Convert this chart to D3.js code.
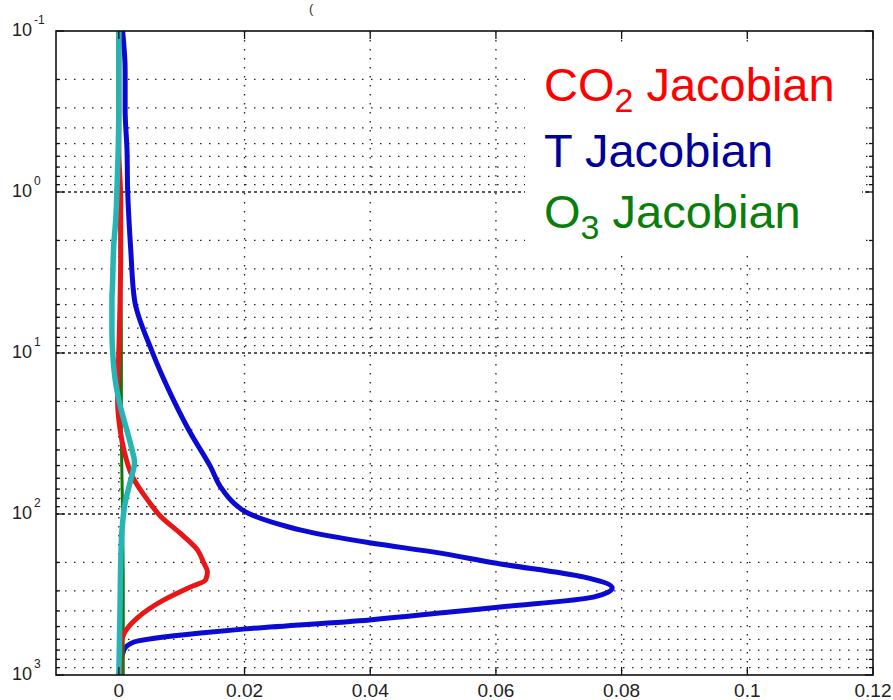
<!DOCTYPE html>
<html>
<head>
<meta charset="utf-8">
<script src="https://cdn.jsdelivr.net/npm/d3@7"></script>
<style>
  body { margin: 0; background: #fff; }
  svg { display: block; font-family: "Liberation Sans", Arial, sans-serif; }
</style>
</head>
<body>
<svg width="893" height="700"></svg>
<script>
// pressure levels (hPa) and Jacobian values
const tPres = [0.1, 0.175, 0.31, 0.55, 0.97, 2.3, 4.7, 9.6, 19.6, 31.4, 51, 68, 85.5, 98.7, 120, 126, 151, 175, 201, 246, 288, 328, 378, 406, 455, 517, 548, 624, 700, 867, 1000];
const tJac  = [0.0006, 0.001, 0.001, 0.0013, 0.0014, 0.0019, 0.0025, 0.0052, 0.0087, 0.0114, 0.0146, 0.0162, 0.0183, 0.0205, 0.0269, 0.029, 0.0399, 0.0512, 0.0596, 0.0739, 0.0785, 0.0755, 0.0607, 0.0527, 0.0399, 0.0202, 0.013, 0.0024, 0.0008, 0.0003, 0.0003];

const co2Pres = [0.1, 0.55, 1.12, 2.3, 4.7, 9.6, 19.6, 30, 40, 59, 82, 104, 132, 167, 201, 229, 257, 284, 343, 440, 530, 660, 1000];
const co2Jac  = [0, 0, 0.0003, 0.0003, 0.0002, 0, -0.0002, 0.0002, 0.0008, 0.0022, 0.0046, 0.0067, 0.0098, 0.0125, 0.0135, 0.0141, 0.0138, 0.0114, 0.0071, 0.003, 0.0011, 0.0003, 0.0002];

const o3Pres = [0.1, 1, 8, 30, 60, 100, 300, 1000];
const o3Jac  = [0.0001, 0.0001, 0.0004, 0.0004, 0.0005, 0.0006, 0.0007, 0.0007];

const cyanPres = [0.1, 0.27, 0.97, 1.5, 2.1, 3.7, 4.7, 7.3, 9.6, 15.4, 19.6, 31.4, 40, 48, 57, 68, 85.5, 126, 201, 355, 1000];
const cyanJac  = [0, 0, -0.0003, -0.0005, -0.0008, -0.001, -0.0011, -0.0011, -0.001, -0.0005, 0, 0.0014, 0.0021, 0.0025, 0.0021, 0.0016, 0.001, 0.0005, 0.0003, 0.0002, 0];

const xTicks = [0, 0.02, 0.04, 0.06, 0.08, 0.1, 0.12];
const xTickLabels = ['0', '0.02', '0.04', '0.06', '0.08', '0.1', '0.12'];
const yDecades = [0.1, 1, 10, 100, 1000];
const yExponents = ['-1', '0', '1', '2', '3'];

const legendItems = [
  { main: 'CO', sub: '2', rest: ' Jacobian', color: '#ff0000' },
  { main: 'T Jacobian', sub: '', rest: '', color: '#000099' },
  { main: 'O', sub: '3', rest: ' Jacobian', color: '#0a7d0a' }
];

const svg = d3.select('svg');

const x = d3.scaleLinear().domain([-0.01, 0.12]).range([56, 873]);
const y = d3.scaleLog().domain([0.1, 1000]).range([31, 675]);

// minor log ticks (1..9 per decade)
const yAll = [];
for (let k = -1; k < 3; k++) {
  for (let m = 1; m <= 9; m++) yAll.push(m * Math.pow(10, k));
}
yAll.push(1000);

const isDecade = v => Math.abs(Math.log10(v) - Math.round(Math.log10(v))) < 1e-9;

// grid
const grid = svg.append('g').attr('stroke', '#222').attr('stroke-width', 1.3);

grid.selectAll('.hg')
  .data(yAll.filter(v => v > 0.1 && v < 1000))
  .join('line')
    .attr('x1', x.range()[0]).attr('x2', x.range()[1])
    .attr('y1', d => y(d)).attr('y2', d => y(d))
    .attr('stroke-dasharray', d => isDecade(d) ? '3,3' : '1.5,7.5');

grid.selectAll('.vg')
  .data(xTicks.filter(v => v < 0.12))
  .join('line')
    .attr('x1', d => x(d)).attr('x2', d => x(d))
    .attr('y1', y.range()[0]).attr('y2', y.range()[1])
    .attr('stroke-dasharray', '1.5,7.5');

// curves (pressure is monotonic, so smooth along y)
const line = d3.line()
  .x(d => x(d[1]))
  .y(d => y(d[0]))
  .curve(d3.curveMonotoneY);

const curves = [
  { pres: tPres, vals: tJac, color: '#0a0ad2', w: 5 },
  { pres: o3Pres, vals: o3Jac, color: '#0b7a0b', w: 3 },
  { pres: co2Pres, vals: co2Jac, color: '#e81616', w: 5 },
  { pres: cyanPres, vals: cyanJac, color: '#26b4b4', w: 5.5 }
];

curves.forEach(c => {
  svg.append('path')
    .datum(d3.zip(c.pres, c.vals))
    .attr('d', line)
    .attr('fill', 'none')
    .attr('stroke', c.color)
    .attr('stroke-width', c.w)
    .attr('stroke-linejoin', 'round');
});

// legend box
svg.append('rect')
  .attr('x', 525).attr('y', 45)
  .attr('width', 337).attr('height', 205)
  .attr('fill', '#fff');

const legendY = [101, 167, 228];
legendItems.forEach((item, i) => {
  const t = svg.append('text')
    .attr('x', 544)
    .attr('y', legendY[i])
    .attr('fill', item.color)
    .attr('font-size', 47);
  t.append('tspan').text(item.main);
  if (item.sub) {
    t.append('tspan').attr('font-size', 34).attr('dy', 11).text(item.sub);
    t.append('tspan').attr('dy', -11).text(item.rest);
  }
});

// axes box
svg.append('rect')
  .attr('x', 56).attr('y', 31)
  .attr('width', 817).attr('height', 644)
  .attr('fill', 'none')
  .attr('stroke', '#111')
  .attr('stroke-width', 1.6);

// y ticks, inward, both sides
const ticks = svg.append('g').attr('stroke', '#111').attr('stroke-width', 1.3);
yAll.forEach(v => {
  const len = isDecade(v) ? 8 : 4;
  ticks.append('line').attr('x1', 56).attr('x2', 56 + len).attr('y1', y(v)).attr('y2', y(v));
  ticks.append('line').attr('x1', 873).attr('x2', 873 - len).attr('y1', y(v)).attr('y2', y(v));
});
// x ticks, top and bottom
xTicks.forEach(v => {
  ticks.append('line').attr('x1', x(v)).attr('x2', x(v)).attr('y1', 675).attr('y2', 667);
  ticks.append('line').attr('x1', x(v)).attr('x2', x(v)).attr('y1', 31).attr('y2', 39);
});

// y labels
yDecades.forEach((v, i) => {
  const yy = y(v);
  svg.append('text')
    .attr('x', 32).attr('y', yy + 5)
    .attr('text-anchor', 'end')
    .attr('font-size', 18)
    .attr('fill', '#222')
    .text('10');
  svg.append('text')
    .attr('x', 34).attr('y', yy - 7)
    .attr('font-size', 12)
    .attr('fill', '#222')
    .text(yExponents[i]);
});

// x labels
xTicks.forEach((v, i) => {
  svg.append('text')
    .attr('x', x(v)).attr('y', 697)
    .attr('text-anchor', 'middle')
    .attr('font-size', 19)
    .attr('fill', '#222')
    .text(xTickLabels[i]);
});

// clipped title remnant
svg.append('text').attr('x', 309).attr('y', 13).attr('font-size', 13).attr('fill', '#333').text('(');
</script>
</body>
</html>
